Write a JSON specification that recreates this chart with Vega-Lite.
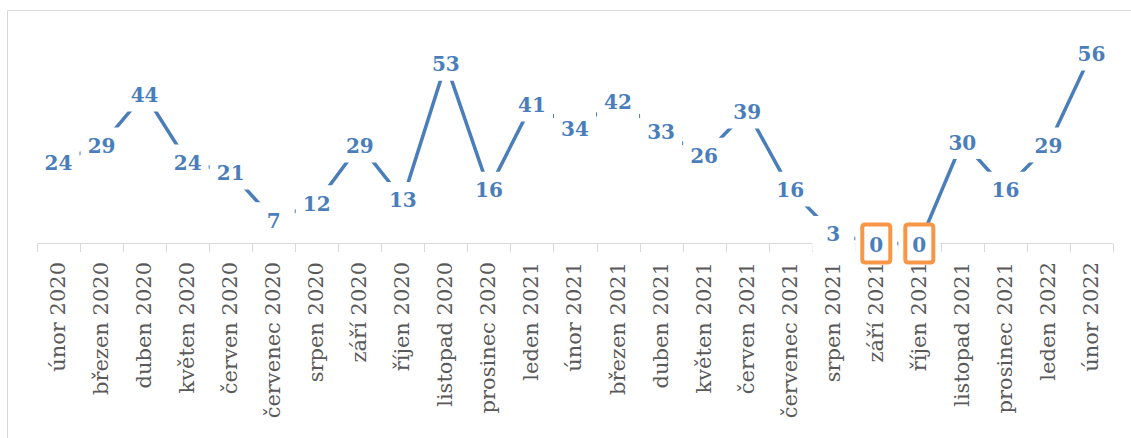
{
  "$schema": "https://vega.github.io/schema/vega-lite/v6.json",
  "autosize": {"type": "none"},
  "padding": {"left": 7, "top": 10, "right": 0, "bottom": 0},
  "width": 1124,
  "height": 428,
  "background": "white",
  "config": {"view": {"stroke": null}},
  "data": {
    "values": [
      {"month": "únor 2020", "value": 24},
      {"month": "březen 2020", "value": 29},
      {"month": "duben 2020", "value": 44},
      {"month": "květen 2020", "value": 24},
      {"month": "červen 2020", "value": 21},
      {"month": "červenec 2020", "value": 7},
      {"month": "srpen 2020", "value": 12},
      {"month": "září 2020", "value": 29},
      {"month": "říjen 2020", "value": 13},
      {"month": "listopad 2020", "value": 53},
      {"month": "prosinec 2020", "value": 16},
      {"month": "leden 2021", "value": 41},
      {"month": "únor 2021", "value": 34},
      {"month": "březen 2021", "value": 42},
      {"month": "duben 2021", "value": 33},
      {"month": "květen 2021", "value": 26},
      {"month": "červen 2021", "value": 39},
      {"month": "červenec 2021", "value": 16},
      {"month": "srpen 2021", "value": 3},
      {"month": "září 2021", "value": 0},
      {"month": "říjen 2021", "value": 0},
      {"month": "listopad 2021", "value": 30},
      {"month": "prosinec 2021", "value": 16},
      {"month": "leden 2022", "value": 29},
      {"month": "únor 2022", "value": 56}
    ]
  },
  "encoding": {
    "x": {
      "field": "month",
      "type": "nominal",
      "sort": null,
      "scale": {"paddingInner": 0, "paddingOuter": 0.5576, "align": 0.625},
      "axis": {
        "title": null,
        "domain": false,
        "ticks": true,
        "tickBand": "extent",
        "tickSize": 8,
        "tickColor": "#d9d9d9",
        "tickWidth": 1,
        "labelAngle": -90,
        "labelFont": "DejaVu Serif",
        "labelFontSize": 21,
        "labelColor": "#595959",
        "labelPadding": 10,
        "labelLimit": 0,
        "labelOverlap": false,
        "labelBound": false,
        "offset": -194.5,
        "grid": false
      }
    },
    "y": {
      "field": "value",
      "type": "quantitative",
      "scale": {"domain": [-57.2, 68.7], "nice": false, "zero": false},
      "axis": {
        "title": null,
        "orient": "left",
        "domain": true,
        "domainColor": "#d9d9d9",
        "domainWidth": 1,
        "ticks": false,
        "labels": false,
        "grid": true,
        "gridColor": "#d9d9d9",
        "gridWidth": 1,
        "values": [68.7]
      }
    }
  },
  "layer": [
    {
      "mark": {"type": "rule", "color": "#d9d9d9", "strokeWidth": 1},
      "encoding": {
        "x": {"field": "month", "type": "nominal", "sort": null, "bandPosition": 0},
        "x2": {"field": "month", "bandPosition": 1},
        "y": {"datum": 0}
      }
    },
    {
      "mark": {"type": "line", "color": "#4a7ebb", "strokeWidth": 3.5}
    },
    {
      "mark": {
        "type": "point",
        "filled": true,
        "fill": "white",
        "opacity": 1,
        "strokeWidth": 0,
        "size": 1764,
        "shape": "M-1,-0.83L1,-0.83L1,0.83L-1,0.83Z"
      }
    },
    {
      "transform": [{"filter": "datum.value === 0"}],
      "mark": {
        "type": "point",
        "filled": false,
        "fill": "white",
        "fillOpacity": 1,
        "stroke": "#F79646",
        "strokeWidth": 4,
        "opacity": 1,
        "size": 784,
        "shape": "M-0.78,-1.357L0.78,-1.357Q1,-1.357 1,-1.137L1,1.137Q1,1.357 0.78,1.357L-0.78,1.357Q-1,1.357 -1,1.137L-1,-1.137Q-1,-1.357 -0.78,-1.357Z"
      }
    },
    {
      "mark": {
        "type": "text",
        "font": "DejaVu Serif",
        "fontSize": 20,
        "fontWeight": "bold",
        "color": "#4a7ebb",
        "align": "center",
        "baseline": "middle",
        "dy": 2
      },
      "encoding": {"text": {"field": "value", "type": "quantitative"}}
    }
  ]
}
